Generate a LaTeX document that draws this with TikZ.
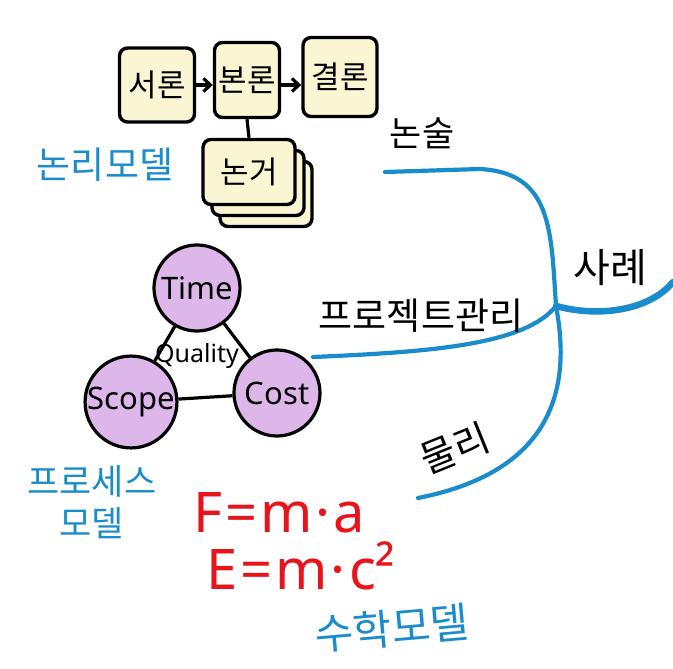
\documentclass[tikz,border=0pt]{standalone}
\usepackage{fontspec}
\setmainfont{Noto Sans CJK KR}
\newfontfamily\latinhand{Noto Sans}
\usetikzlibrary{arrows.meta}
\definecolor{boxfill}{HTML}{FAF5D2}
\definecolor{lilac}{HTML}{DDB6EA}
\definecolor{mapblue}{HTML}{1A8CCB}
\definecolor{formred}{HTML}{E8141B}
\begin{document}
\begin{tikzpicture}[x=1pt,y=-1pt,
  card/.style={draw=black, line width=3.4pt, fill=boxfill, rounded corners=8pt, inner sep=0pt, font=\fontsize{31}{33}\selectfont},
  ball/.style={circle, draw=black, line width=3.2pt, fill=lilac, minimum size=86pt, inner sep=0pt, font=\latinhand\fontsize{31}{33}\selectfont},
  branch/.style={draw=mapblue, line width=4.2pt, line cap=round},
  trunk/.style={draw=mapblue, line width=6.5pt, line cap=round},
  bluetext/.style={text=mapblue, font=\fontsize{35}{42}\selectfont},
  inktext/.style={text=black, font=\fontsize{35}{37}\selectfont},
  formula/.style={text=formred, font=\latinhand\bfseries\fontsize{56}{58}\selectfont, inner sep=0pt},
  link/.style={draw=black, line width=3.2pt},
  arrowlink/.style={link, -{Straight Barb[length=7pt,width=13pt,line width=3.2pt]}}
]
\useasboundingbox (0,0) rectangle (673,669);
\fill[white] (0,0) rectangle (673,669);

% logic model cards
\node[card, minimum width=75pt, minimum height=74pt] (seoron) at (157,85) {서론};
\node[card, minimum width=65pt, minimum height=75pt] (bonron) at (247,80) {본론};
\node[card, minimum width=74pt, minimum height=79pt] (gyeolron) at (340,77) {결론};
\node[card, minimum width=92pt, minimum height=65pt] (nongeoC) at (266,194) {};
\node[card, minimum width=92pt, minimum height=65pt] (nongeoB) at (258,183) {};
\node[card, minimum width=92pt, minimum height=65pt] (nongeo) at (249,172) {논거};
\draw[arrowlink] (seoron.east) -- (seoron.east -| bonron.west);
\draw[arrowlink] ([yshift=-5pt]bonron.east) -- ([yshift=-5pt]bonron.east -| gyeolron.west);
\draw[link] (bonron.south) -- (nongeo.north);
\node[bluetext, font=\fontsize{37}{40}\selectfont] (logicmodel) at (105,165) {논리모델};

% process model triangle
\node[ball] (time) at (197,288) {Time};
\node[ball] (scope) at (131,402) {Scope};
\node[ball] (cost) at (277,393) {Cost};
\draw[link] (time) -- (scope);
\draw[link] (time) -- (cost);
\draw[link] (scope) -- (cost);
\node[font=\latinhand\fontsize{25}{27}\selectfont, inner sep=1pt] (quality) at (197,356) {Quality};
\node[bluetext, align=center] (processmodel) at (92,502) {프로세스\\모델};

% formulas
\node[formula] (newton) at (279,513) {F\kern3pt=\kern3pt m\kern3pt·\kern3pt a};
\node[formula] (einstein) at (301,566) {E\kern3pt=\kern3pt m\kern3pt·\kern3pt c²};
\node[bluetext, font=\fontsize{42}{44}\selectfont, rotate=5, inner sep=0pt] (mathmodel) at (392,628) {수학모델};

% mind map branches
\coordinate (J) at (556,306);
\coordinate (nonsulEnd) at (385,172);
\coordinate (pmEnd) at (313,357);
\coordinate (mulliEnd) at (418,498);
\coordinate (rightEnd) at (673,282);
\draw[branch] (nonsulEnd) -- (480,169) .. controls (552,173) and (551,230) .. (J);
\draw[branch] (pmEnd) .. controls (430,352) and (525,345) .. (J);
\draw[branch] (J) .. controls (570,380) and (560,470) .. (mulliEnd);
\draw[trunk] (J) .. controls (600,318) and (650,310) .. (rightEnd);

\node[inktext] (nonsul) at (422,133) {논술};
\node[inktext, font=\fontsize{40}{42}\selectfont] (sarye) at (610,268) {사례};
\node[inktext, font=\fontsize{37}{39}\selectfont] (pm) at (421,316) {프로젝트관리};
\node[inktext, font=\fontsize{38}{40}\selectfont, rotate=22, inner sep=0pt] (mulli) at (455,448) {물리};
\end{tikzpicture}
\end{document}
